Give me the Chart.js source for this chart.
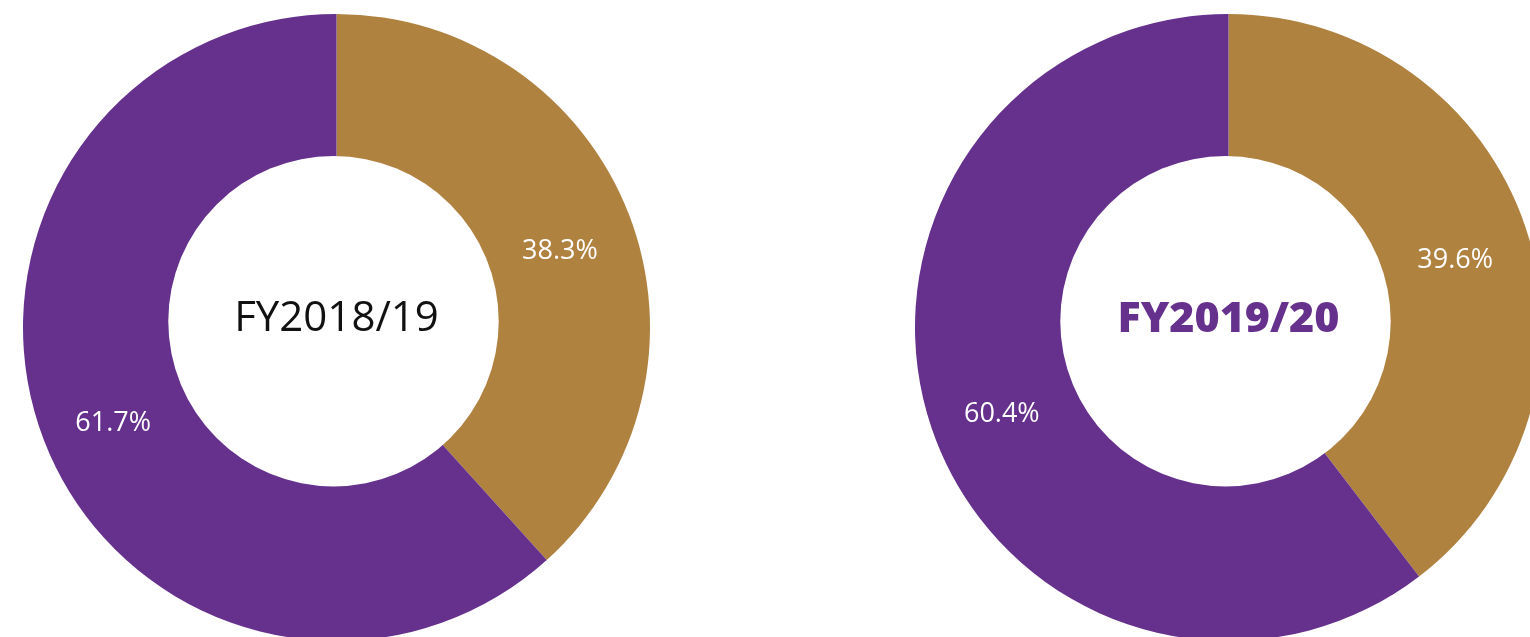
<!DOCTYPE html>
<html>
<head>
<meta charset="utf-8">
<script src="https://cdn.jsdelivr.net/npm/chart.js@4/dist/chart.umd.min.js"></script>
<style>
  html, body { margin: 0; padding: 0; width: 1530px; height: 637px; overflow: hidden; background: #ffffff; }
  .wrap { position: absolute; top: 14px; width: 627px; height: 627px; }
  #w1 { left: 23px; }
  #w2 { left: 915px; }
</style>
</head>
<body>
<div class="wrap" id="w1"><canvas id="c1" width="627" height="627"></canvas></div>
<div class="wrap" id="w2"><canvas id="c2" width="627" height="627"></canvas></div>
<script>
const categories = ["Category A", "Category B"];
const titles = ["FY2018/19", "FY2019/20"];
const valuesFY1819 = [38.3, 61.7];
const valuesFY1920 = [39.6, 60.4];
const colors = ["#B08240", "#65318D"];

const FONT = "'Open Sans', 'DejaVu Sans', sans-serif";

function makeLabelPlugin(title, titleColor, titleWeight, titleSize) {
  return {
    id: 'labels',
    afterDatasetsDraw(chart) {
      const ctx = chart.ctx;
      const meta = chart.getDatasetMeta(0);
      const data = chart.data.datasets[0].data;
      const a0 = meta.data[0];
      const R = a0.outerRadius;
      const holeR = R * 0.527;
      ctx.save();
      // white hole (slightly off-centre, as in the reference)
      ctx.fillStyle = '#ffffff';
      ctx.beginPath();
      ctx.arc(a0.x - R * 0.0096, a0.y - R * 0.02, holeR, 0, Math.PI * 2);
      ctx.fill();
      // value labels
      ctx.textAlign = 'center';
      ctx.textBaseline = 'middle';
      ctx.fillStyle = '#ffffff';
      ctx.font = "400 27px " + FONT;
      meta.data.forEach((arc, i) => {
        const p = arc.getProps(['x', 'y', 'startAngle', 'endAngle', 'outerRadius'], true);
        const mid = (p.startAngle + p.endAngle) / 2;
        const r = (holeR + p.outerRadius) / 2;
        ctx.fillText(data[i].toFixed(1) + '%', p.x + Math.cos(mid) * r, p.y + Math.sin(mid) * r + 10);
      });
      // centre title
      ctx.fillStyle = titleColor;
      ctx.font = titleWeight + " " + titleSize + "px " + FONT;
      ctx.fillText(title, a0.x, a0.y - 8);
      ctx.restore();
    }
  };
}

function makeChart(id, values, title, titleColor, titleWeight, titleSize) {
  return new Chart(document.getElementById(id), {
    type: 'doughnut',
    data: {
      labels: categories,
      datasets: [{
        data: values,
        backgroundColor: colors,
        borderWidth: 0,
        hoverOffset: 0
      }]
    },
    options: {
      responsive: false,
      animation: false,
      cutout: 0,
      layout: { padding: 0 },
      plugins: { legend: { display: false }, tooltip: { enabled: false } },
      events: []
    },
    plugins: [makeLabelPlugin(title, titleColor, titleWeight, titleSize)]
  });
}

makeChart('c1', valuesFY1819, titles[0], '#111111', '400', 42);
makeChart('c2', valuesFY1920, titles[1], '#65318D', '800', 43);
</script>
</body>
</html>
